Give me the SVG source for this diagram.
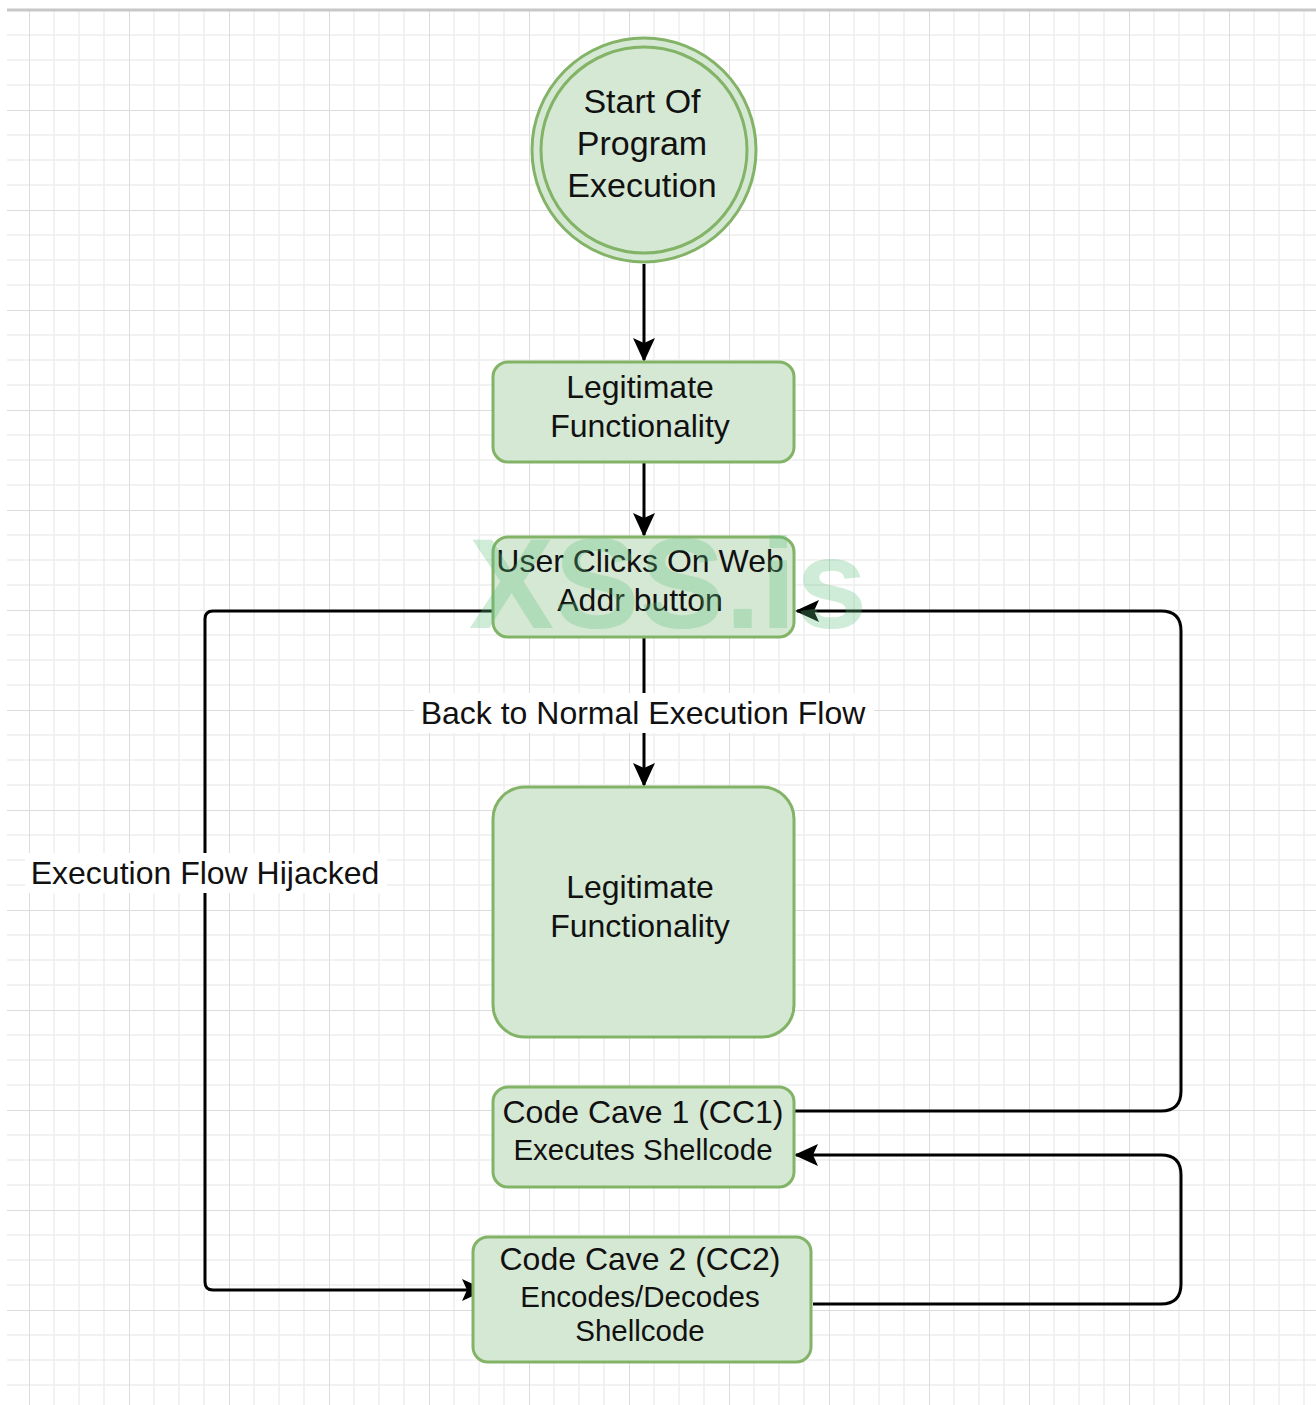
<svg xmlns="http://www.w3.org/2000/svg" width="1316" height="1405" viewBox="0 0 1316 1405">
<defs>
<pattern id="grid" x="29" y="10" width="100" height="100" patternUnits="userSpaceOnUse">
<path d="M25 0V100M50 0V100M75 0V100M0 25H100M0 50H100M0 75H100" stroke="#eeeeee" stroke-width="1.5" fill="none"/>
<path d="M0 0V100M0 0H100" stroke="#dcdcdc" stroke-width="2" fill="none"/>
</pattern>
<marker id="arr" viewBox="0 0 24 22" refX="22" refY="11" markerWidth="24" markerHeight="22" markerUnits="userSpaceOnUse" orient="auto">
<path d="M0 0L24 11L0 22L5 11Z" fill="#000"/>
</marker>
<style>
.node{fill:#d5e8d4;stroke:#82b366;stroke-width:3}
.t{font-family:"Liberation Sans",Arial,sans-serif;fill:#111;text-anchor:middle}
.big{font-size:34px}
.m{font-size:32px}
.s{font-size:29.5px}
.edge{fill:none;stroke:#000;stroke-width:3}
.lbl{fill:#fff}
</style>
</defs>
<rect width="1316" height="1405" fill="#fff"/>
<rect x="7" y="10" width="1309" height="1395" fill="url(#grid)"/>
<line x1="7" y1="10" x2="1316" y2="10" stroke="#c8c8c8" stroke-width="3"/>

<g id="connectors">
<path class="edge" d="M644 264V360" marker-end="url(#arr)"/>
<path class="edge" d="M644 462V535" marker-end="url(#arr)"/>
<path class="edge" d="M644 637V785" marker-end="url(#arr)"/>
<path class="edge" d="M493 611H213Q205 611 205 619V1282Q205 1290 213 1290H484" marker-end="url(#arr)"/>
<path class="edge" d="M794 1111H1161Q1181 1111 1181 1091V631Q1181 611 1161 611H797" marker-end="url(#arr)"/>
<path class="edge" d="M813 1304H1161Q1181 1304 1181 1284V1175Q1181 1155 1161 1155H796" marker-end="url(#arr)"/>
<rect class="lbl" x="414" y="693" width="460" height="40"/>
<text class="t m" x="643" y="724">Back to Normal Execution Flow</text>
<rect class="lbl" x="25" y="853" width="362" height="40"/>
<text class="t m" x="205" y="884">Execution Flow Hijacked</text>
</g>

<g id="start">
<circle class="node" cx="644" cy="150" r="112"/>
<circle cx="644" cy="150" r="103" fill="none" stroke="#82b366" stroke-width="3"/>
<text class="t big" x="642" y="113">Start Of</text>
<text class="t big" x="642" y="155">Program</text>
<text class="t big" x="642" y="197">Execution</text>
</g>

<g id="legit1">
<rect class="node" x="493" y="362" width="301" height="100" rx="15"/>
<text class="t m" x="640" y="398">Legitimate</text>
<text class="t m" x="640" y="437">Functionality</text>
</g>

<g id="userclick">
<rect class="node" x="493" y="537" width="301" height="100" rx="15"/>
<text class="t m" x="640" y="572">User Clicks On Web</text>
<text class="t m" x="640" y="611">Addr button</text>
</g>

<g id="legit2">
<rect class="node" x="493" y="787" width="301" height="250" rx="32"/>
<text class="t m" x="640" y="898">Legitimate</text>
<text class="t m" x="640" y="937">Functionality</text>
</g>

<g id="cc1">
<rect class="node" x="493" y="1087" width="301" height="100" rx="15"/>
<text class="t m" x="643" y="1123">Code Cave 1 (CC1)</text>
<text class="t s" x="643" y="1160">Executes Shellcode</text>
</g>

<g id="cc2">
<rect class="node" x="473" y="1237" width="338" height="125" rx="15"/>
<text class="t m" x="640" y="1270">Code Cave 2 (CC2)</text>
<text class="t s" x="640" y="1307">Encodes/Decodes</text>
<text class="t s" x="640" y="1341">Shellcode</text>
</g>

<text x="668" y="628" font-family="'Liberation Sans',Arial,sans-serif" font-weight="bold" font-size="128" text-anchor="middle" fill="#5fbf7f" fill-opacity="0.3">XSS.is</text>
</svg>
